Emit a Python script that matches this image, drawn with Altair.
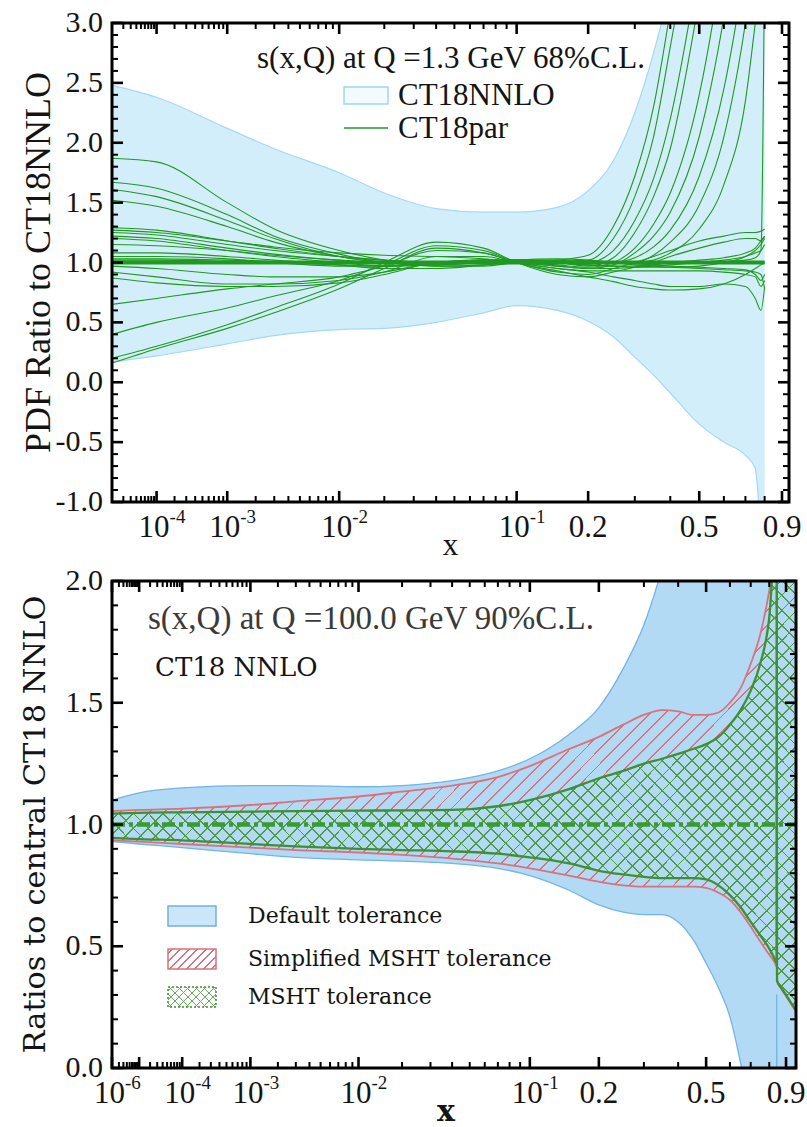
import altair as alt
import pandas as pd

SERIF = "Liberation Serif"
ALT_SERIF = "DejaVu Serif"
INK = "#141414"
GREEN = "#1f9a1f"

# ---------------- upper panel: s(x,Q) at Q = 1.3 GeV, 68% C.L. ----------------
x_top = [1e-5, 1e-4, 1e-3, 3e-3, 1e-2, 0.02, 0.04, 0.07, 0.1, 0.15, 0.2,
         0.25, 0.3, 0.35, 0.4, 0.5, 0.6, 0.7, 0.75, 0.78, 0.8]
nnlo_hi = [2.48, 2.38, 2.12, 1.95, 1.75, 1.58, 1.45, 1.42, 1.42, 1.46, 1.60,
           1.85, 2.25, 2.75, 3.3, 4.5, 6.0, 8.0, 9.0, 9.5, 10.0]
nnlo_lo = [0.17, 0.22, 0.32, 0.39, 0.44, 0.45, 0.50, 0.58, 0.64, 0.60, 0.51,
           0.38, 0.21, 0.06, -0.09, -0.35, -0.50, -0.61, -0.72, -1.3, -1.8]
central_top = [1.0] * len(x_top)

ct18par = {
    "p01": [1.87, 1.84, 1.50, 1.28, 1.10, 1.02, 0.97, 0.97, 1.00, 1.02, 1.06, 1.30, 1.72, 2.30, 3.10, 4.6, 6.0, 7.5, 8.0, 8.5, 9.0],
    "p02": [1.67, 1.62, 1.40, 1.22, 1.07, 1.00, 0.97, 0.98, 1.00, 1.01, 1.02, 1.20, 1.55, 2.05, 2.80, 4.2, 5.6, 7.0, 7.5, 8.0, 8.5],
    "p03": [1.61, 1.55, 1.35, 1.20, 1.05, 1.00, 0.98, 1.00, 1.02, 1.02, 1.00, 1.10, 1.35, 1.70, 2.20, 3.5, 4.8, 6.0, 6.5, 7.0, 7.5],
    "p04": [1.52, 1.47, 1.30, 1.17, 1.05, 1.00, 0.99, 1.01, 1.02, 1.00, 0.97, 1.04, 1.25, 1.55, 1.95, 3.2, 4.5, 5.8, 6.4, 6.8, 7.2],
    "p05": [1.29, 1.27, 1.18, 1.12, 1.05, 1.02, 1.00, 1.00, 1.00, 0.98, 0.96, 1.00, 1.12, 1.32, 1.58, 2.40, 3.6, 5.0, 5.6, 6.0, 6.4],
    "p06": [1.27, 1.25, 1.18, 1.13, 1.08, 1.06, 1.05, 1.03, 1.00, 0.97, 0.95, 0.98, 1.08, 1.22, 1.42, 2.05, 3.05, 4.3, 5.0, 5.4, 5.8],
    "p07": [1.25, 1.23, 1.15, 1.10, 1.05, 1.02, 1.00, 1.00, 1.00, 1.00, 1.00, 1.00, 1.04, 1.13, 1.27, 1.72, 2.45, 3.5, 4.1, 4.5, 4.9],
    "p08": [1.22, 1.20, 1.12, 1.07, 1.02, 1.00, 1.00, 1.00, 1.00, 1.00, 1.00, 1.00, 1.00, 1.06, 1.17, 1.48, 2.05, 3.0, 3.6, 4.0, 4.4],
    "p09": [1.20, 1.18, 1.10, 1.05, 1.00, 0.97, 1.00, 1.02, 1.02, 1.00, 1.00, 1.00, 1.00, 1.02, 1.08, 1.28, 1.65, 2.35, 3.0, 3.4, 3.8],
    "p10": [1.15, 1.14, 1.10, 1.06, 1.02, 1.00, 1.00, 1.00, 1.00, 1.00, 1.00, 1.00, 1.00, 1.00, 1.00, 1.00, 1.01, 1.02, 1.04, 1.10, 3.6],
    "p11": [0.16, 0.28, 0.45, 0.58, 0.78, 0.95, 1.12, 1.08, 1.00, 0.92, 0.90, 0.95, 1.00, 1.05, 1.10, 1.18, 1.22, 1.25, 1.25, 1.26, 1.28],
    "p12": [0.20, 0.30, 0.48, 0.62, 0.82, 1.00, 1.17, 1.12, 1.00, 0.90, 0.88, 0.92, 0.96, 1.00, 1.05, 1.12, 1.17, 1.20, 1.20, 1.18, 1.22],
    "p13": [0.40, 0.50, 0.62, 0.72, 0.85, 0.98, 1.14, 1.10, 1.00, 0.93, 0.88, 0.84, 0.80, 0.78, 0.77, 0.78, 0.82, 0.90, 0.95, 0.98, 1.00],
    "p14": [0.65, 0.70, 0.78, 0.82, 0.88, 0.97, 1.10, 1.08, 1.00, 0.95, 0.92, 0.88, 0.85, 0.82, 0.80, 0.80, 0.82, 0.80, 0.70, 0.60, 0.80],
    "p15": [0.92, 0.88, 0.82, 0.82, 0.85, 0.92, 1.05, 1.05, 1.00, 0.95, 0.93, 0.93, 0.93, 0.93, 0.93, 0.93, 0.92, 0.90, 0.88, 0.80, 0.85],
    "p16": [0.87, 0.83, 0.80, 0.80, 0.83, 0.90, 1.00, 1.02, 1.00, 0.97, 0.95, 0.95, 0.96, 0.97, 0.98, 1.00, 1.02, 1.05, 1.08, 1.10, 1.15],
    "p17": [0.97, 0.95, 0.90, 0.88, 0.88, 0.92, 1.00, 1.02, 1.02, 1.00, 0.98, 0.97, 0.96, 0.96, 0.96, 0.97, 1.00, 1.05, 1.10, 1.15, 1.20],
    "p18": [1.05, 1.05, 1.03, 1.00, 0.97, 0.97, 1.00, 1.02, 1.02, 1.00, 0.98, 0.97, 0.97, 0.98, 1.00, 1.02, 1.04, 1.08, 1.12, 1.18, 1.22],
    "p19": [1.08, 1.08, 1.05, 1.02, 0.98, 0.95, 0.95, 0.98, 1.02, 1.03, 1.02, 1.00, 0.98, 0.97, 0.96, 0.95, 0.94, 0.93, 0.92, 0.90, 0.78],
    "p20": [1.02, 1.02, 1.01, 1.00, 0.98, 0.97, 0.98, 1.00, 1.01, 1.01, 1.01, 1.00, 0.99, 0.98, 0.97, 0.96, 0.95, 0.94, 0.90, 0.85, 0.90],
    "p21": [1.03, 1.03, 1.02, 1.01, 1.00, 1.00, 1.00, 1.00, 1.00, 1.00, 1.00, 1.00, 1.00, 1.00, 1.00, 1.00, 1.00, 1.00, 1.00, 1.00, 1.00],
}

# ---------------- lower panel: s(x,Q) at Q = 100 GeV, 90% C.L. ----------------
x_bot = [1e-6, 1e-5, 1e-4, 1e-3, 3e-3, 1e-2, 0.02, 0.04, 0.07, 0.1, 0.15, 0.2,
         0.25, 0.3, 0.35, 0.4, 0.45, 0.5, 0.55, 0.6, 0.65, 0.7, 0.75, 0.8,
         0.83, 0.843, 0.8435, 0.845, 0.87, 0.9, 0.93, 0.96]
default_hi = [1.10, 1.13, 1.15, 1.16, 1.16, 1.155, 1.16, 1.18, 1.22, 1.27, 1.37, 1.48,
              1.64, 1.82, 2.05, 2.3, 2.6, 2.9, 3.2, 3.5, 3.8, 4.1, 4.4, 4.7,
              4.9, 5.0, 5.0, 5.0, 5.1, 5.2, 5.3, 5.4]
default_lo = [0.93, 0.92, 0.905, 0.88, 0.865, 0.855, 0.85, 0.84, 0.82, 0.79, 0.73, 0.67,
              0.64, 0.63, 0.63, 0.60, 0.53, 0.43, 0.33, 0.21, 0.02, -0.2, -0.4, -0.5,
              -0.5, -0.5, 0.3, -0.5, -0.5, -0.5, -0.5, -0.5]
simp_hi = [1.055, 1.06, 1.065, 1.08, 1.095, 1.115, 1.135, 1.16, 1.195, 1.24, 1.31, 1.36,
           1.41, 1.45, 1.47, 1.465, 1.45, 1.45, 1.46, 1.50, 1.56, 1.66, 1.78, 1.96,
           2.1, 2.1, 2.1, 2.1, 2.1, 2.1, 2.1, 2.1]
simp_lo = [0.935, 0.93, 0.92, 0.905, 0.895, 0.885, 0.875, 0.86, 0.84, 0.82, 0.79, 0.765,
           0.75, 0.745, 0.745, 0.745, 0.745, 0.74, 0.72, 0.69, 0.64, 0.58, 0.52, 0.465,
           0.435, 0.415, 2.1, 0.355, 0.325, 0.295, 0.265, 0.235]
msht_hi = [1.045, 1.048, 1.05, 1.053, 1.055, 1.057, 1.058, 1.06, 1.075, 1.10, 1.145, 1.19,
           1.22, 1.25, 1.27, 1.29, 1.31, 1.33, 1.36, 1.41, 1.47, 1.55, 1.66, 1.85,
           2.1, 2.1, 2.1, 2.1, 2.1, 2.1, 2.1, 2.1]
msht_lo = [0.945, 0.94, 0.935, 0.92, 0.91, 0.90, 0.895, 0.89, 0.88, 0.865, 0.84, 0.81,
           0.795, 0.785, 0.78, 0.78, 0.78, 0.775, 0.75, 0.71, 0.66, 0.60, 0.545, 0.49,
           0.45, 0.43, 2.1, 0.36, 0.33, 0.30, 0.27, 0.24]
central_bot = [1.0] * len(x_bot)

# ---------------- axis ticks and labels ----------------
top_major_x = [1e-4, 1e-3, 1e-2, 0.1, 0.2, 0.5, 0.9]
bot_major_x = [1e-6, 1e-5, 1e-4, 1e-3, 1e-2, 0.1, 0.2, 0.5, 0.9]
top_decades = [1e-4, 1e-3, 1e-2, 0.1]
top_exponents = ["-4", "-3", "-2", "-1"]
bot_decades = [1e-6, 1e-4, 1e-3, 1e-2, 0.1]
bot_exponents = ["-6", "-4", "-3", "-2", "-1"]
linear_ticks = [0.2, 0.5, 0.9]
linear_labels = ["0.2", "0.5", "0.9"]
top_major_y = [-1.0, -0.5, 0.0, 0.5, 1.0, 1.5, 2.0, 2.5, 3.0]
top_y_labels = ["-1.0", "-0.5", "0.0", "0.5", "1.0", "1.5", "2.0", "2.5", "3.0"]
bot_major_y = [0.0, 0.5, 1.0, 1.5, 2.0]
bot_y_labels = ["0.0", "0.5", "1.0", "1.5", "2.0"]


def minor_x(first_exp):
    ticks = [m * 10.0 ** e for e in range(first_exp, -1) for m in range(2, 10)]
    return ticks + [0.3, 0.4, 0.6, 0.7, 0.8]


def minor_y(lo, hi):
    n = int(round((hi - lo) * 10))
    return [round(lo + 0.1 * i, 1) for i in range(n + 1) if i % 5]


TOP_W, TOP_H = 677, 479
BOT_W, BOT_H = 684, 487

xs_top = alt.Scale(type="pow", exponent=0.2, domain=[1e-5, 0.943], nice=False, zero=False)
ys_top = alt.Scale(domain=[-1, 3], nice=False, zero=False)
xs_bot = alt.Scale(type="pow", exponent=0.2, domain=[1e-6, 0.964], nice=False, zero=False)
ys_bot = alt.Scale(domain=[0, 2], nice=False, zero=False)

one = pd.DataFrame({"k": [0]})


def hatch(color, clear, period, thickness, w, h, diag="/"):
    """Striped linear gradient used as a hatch fill (lines at ~45 degrees)."""
    r = h / w
    c = (1 + r) / (1 + r * r)
    n = max(1, round((w + h) / (2 ** 0.5 * period)))
    half = thickness / period / 2
    stops = []
    for i in range(n):
        mid = (i + 0.5) / n
        a, b = mid - half / n, mid + half / n
        stops += [alt.GradientStop(color=clear, offset=a), alt.GradientStop(color=color, offset=a),
                  alt.GradientStop(color=color, offset=b), alt.GradientStop(color=clear, offset=b)]
    if diag == "/":
        return alt.LinearGradient(gradient="linear", stops=stops, x1=0, y1=0, x2=c, y2=c * r)
    return alt.LinearGradient(gradient="linear", stops=stops, x1=0, y1=1, x2=c, y2=1 - c * r)


def frame_and_ticks(xs, ys, W, H, xmaj, xmin, ymaj, ymin):
    layers = []
    for vals, length, sw in ((xmaj, 11, 2.6), (xmin, 6, 2.0)):
        base = alt.Chart(pd.DataFrame({"x": vals})).mark_rule(color="black", strokeWidth=sw)
        xenc = alt.X("x:Q", scale=xs, axis=None)
        layers.append(base.encode(x=xenc, y=alt.value(H), y2=alt.value(H - length)))
        layers.append(base.encode(x=xenc, y=alt.value(0), y2=alt.value(length)))
    for vals, length, sw in ((ymaj, 11, 2.6), (ymin, 6, 2.0)):
        base = alt.Chart(pd.DataFrame({"y": vals})).mark_rule(color="black", strokeWidth=sw)
        yenc = alt.Y("y:Q", scale=ys, axis=None)
        layers.append(base.encode(y=yenc, x=alt.value(0), x2=alt.value(length)))
        layers.append(base.encode(y=yenc, x=alt.value(W), x2=alt.value(W - length)))
    layers.append(alt.Chart(one).mark_rect(fillOpacity=0, stroke="black", strokeWidth=3).encode(
        x=alt.value(0), x2=alt.value(W), y=alt.value(0), y2=alt.value(H)))
    return layers


def x_labels(xs, H, decades, exponents):
    dec = pd.DataFrame({"x": decades, "e": exponents})
    lin = pd.DataFrame({"x": linear_ticks, "t": linear_labels})
    xenc = alt.X("x:Q", scale=xs, axis=None)
    tens = alt.Chart(dec).mark_text(text="10", align="right", baseline="middle", dx=13,
                                    font=SERIF, fontSize=31, color=INK).encode(x=xenc, y=alt.value(H + 26))
    sup = alt.Chart(dec).mark_text(align="left", baseline="middle", dx=13, font=SERIF,
                                   fontSize=19, color=INK).encode(x=xenc, y=alt.value(H + 15), text="e:N")
    lin_t = alt.Chart(lin).mark_text(align="center", baseline="middle", font=SERIF, fontSize=31,
                                     color=INK).encode(x=xenc, y=alt.value(H + 26), text="t:N")
    return [tens, sup, lin_t]


def y_labels(ys, H, values, labels, title, font, size, tx):
    df = pd.DataFrame({"y": values, "t": labels})
    ticks_t = alt.Chart(df).mark_text(align="right", baseline="middle", dx=-9, font=SERIF, fontSize=30,
                                      color=INK).encode(y=alt.Y("y:Q", scale=ys, axis=None),
                                                        x=alt.value(0), text="t:N")
    title_t = alt.Chart(one).mark_text(text=title, angle=270, align="center", baseline="middle",
                                       font=font, fontSize=size, color=INK).encode(
        x=alt.value(tx), y=alt.value(H / 2))
    return [ticks_t, title_t]


# ---------------- build upper panel ----------------
top_df = pd.DataFrame({"x": x_top, "hi": nnlo_hi, "lo": nnlo_lo, "c": central_top})
par_df = pd.DataFrame([{"member": k, "x": x, "r": v} for k, vals in ct18par.items()
                       for x, v in zip(x_top, vals)])
xt = alt.X("x:Q", scale=xs_top, axis=None)

top_band = alt.Chart(top_df).mark_area(interpolate="monotone", clip=True, color="#d2eefb").encode(
    x=xt, y=alt.Y("lo:Q", scale=ys_top, axis=None), y2="hi:Q")
top_edges = alt.Chart(top_df).transform_fold(["hi", "lo"], as_=["edge", "v"]).mark_line(
    interpolate="monotone", clip=True, color="#a6d8f2", strokeWidth=1.2).encode(
    x=xt, y=alt.Y("v:Q", scale=ys_top, axis=None), detail="edge:N")
top_par = alt.Chart(par_df).mark_line(interpolate="monotone", clip=True, color=GREEN, strokeWidth=1.1).encode(
    x=xt, y=alt.Y("r:Q", scale=ys_top, axis=None), detail="member:N")
top_central = alt.Chart(top_df).mark_line(clip=True, color=GREEN, strokeWidth=4).encode(
    x=xt, y=alt.Y("c:Q", scale=ys_top, axis=None))

top_text = [
    alt.Chart(one).mark_text(text="s(x,Q) at Q =1.3 GeV 68%C.L.", font=SERIF, fontSize=31, color=INK,
                             align="center", baseline="middle").encode(x=alt.value(339), y=alt.value(36)),
    alt.Chart(one).mark_rect(fill="#f3fbff", stroke="#9fd6f2", strokeWidth=1.5).encode(
        x=alt.value(232), x2=alt.value(276), y=alt.value(64), y2=alt.value(81)),
    alt.Chart(one).mark_rule(color=GREEN, strokeWidth=1.5).encode(
        x=alt.value(232), x2=alt.value(276), y=alt.value(105)),
    alt.Chart(one).mark_text(text="CT18NNLO", font=SERIF, fontSize=31, color=INK, align="left",
                             baseline="middle").encode(x=alt.value(286), y=alt.value(73)),
    alt.Chart(one).mark_text(text="CT18par", font=SERIF, fontSize=31, color=INK, align="left",
                             baseline="middle").encode(x=alt.value(286), y=alt.value(106)),
    alt.Chart(one).mark_text(text="x", font=SERIF, fontSize=31, color=INK, align="center",
                             baseline="middle").encode(x=alt.value(TOP_W / 2), y=alt.value(TOP_H + 44)),
    # keeps the page origin at a fixed offset from the plot corner
    alt.Chart(one).mark_rule(opacity=0).encode(x=alt.value(-111), x2=alt.value(-110),
                                               y=alt.value(-22), y2=alt.value(-21)),
]

top_panel = alt.layer(
    top_band, top_edges, top_par, top_central,
    *frame_and_ticks(xs_top, ys_top, TOP_W, TOP_H, top_major_x, minor_x(-5), top_major_y, minor_y(-1, 3)),
    *x_labels(xs_top, TOP_H, top_decades, top_exponents),
    *y_labels(ys_top, TOP_H, top_major_y, top_y_labels, "PDF Ratio to CT18NNLO", SERIF, 36, -73),
    *top_text,
).properties(width=TOP_W, height=TOP_H)

# ---------------- build lower panel ----------------
bot_df = pd.DataFrame({"x": x_bot, "d_hi": default_hi, "d_lo": default_lo, "s_hi": simp_hi,
                       "s_lo": simp_lo, "m_hi": msht_hi, "m_lo": msht_lo, "c": central_bot})
xb = alt.X("x:Q", scale=xs_bot, axis=None)
BLUE_FILL = "#b2daf5"
RED = "#d8727c"
GREEN_EDGE = "#3f8f35"


def band(lo, hi, **mark):
    return alt.Chart(bot_df).mark_area(interpolate="monotone", clip=True, **mark).encode(
        x=xb, y=alt.Y(f"{lo}:Q", scale=ys_bot, axis=None), y2=f"{hi}:Q")


def edges(cols, **mark):
    return alt.Chart(bot_df).transform_fold(cols, as_=["edge", "v"]).mark_line(
        interpolate="monotone", clip=True, **mark).encode(
        x=xb, y=alt.Y("v:Q", scale=ys_bot, axis=None), detail="edge:N")


bot_blue = band("d_lo", "d_hi", fill=BLUE_FILL)
band_w, band_h = BOT_W, 450
red_hatch = band("s_lo", "s_hi", fill=hatch(RED, "rgba(216,114,124,0)", 10.5, 1.3, band_w, band_h, "/"))
green_cover = band("m_lo", "m_hi", fill=BLUE_FILL)
green_h1 = band("m_lo", "m_hi", fill=hatch("#4f9a42", "rgba(79,154,66,0)", 10.5, 1.3, band_w, band_h, "/"))
green_h2 = band("m_lo", "m_hi", fill=hatch("#4f9a42", "rgba(79,154,66,0)", 10.5, 1.3, band_w, band_h, "\\"))
blue_edges = edges(["d_hi", "d_lo"], color="#72b4e5", strokeWidth=1.3)
red_edges = edges(["s_hi", "s_lo"], color=RED, strokeWidth=1.8)
green_edges = edges(["m_hi", "m_lo"], color=GREEN_EDGE, strokeWidth=2.3)
bot_central = alt.Chart(bot_df).mark_line(clip=True, color="#3b9a2c", strokeWidth=4.5,
                                          strokeDash=[13, 4, 4, 4]).encode(
    x=xb, y=alt.Y("c:Q", scale=ys_bot, axis=None))


def swatch(y0, **mark):
    return alt.Chart(one).mark_rect(**mark).encode(
        x=alt.value(56), x2=alt.value(104), y=alt.value(y0), y2=alt.value(y0 + 20))


def legend_text(label, y):
    return alt.Chart(one).mark_text(text=label, font=ALT_SERIF, fontSize=22, color=INK, align="left",
                                    baseline="middle").encode(x=alt.value(136), y=alt.value(y))


bot_text = [
    alt.Chart(one).mark_text(text="s(x,Q) at Q =100.0 GeV 90%C.L.", font=SERIF, fontSize=33,
                             color="#3a3a3a", align="left", baseline="middle").encode(
        x=alt.value(36), y=alt.value(38)),
    alt.Chart(one).mark_text(text="CT18 NNLO", font=ALT_SERIF, fontSize=26, color=INK, align="left",
                             baseline="middle").encode(x=alt.value(43), y=alt.value(87)),
    swatch(325, fill="#cbe6f8", stroke="#6fb1e2", strokeWidth=1.5),
    swatch(368, fill="white"),
    swatch(368, fill=hatch(RED, "rgba(216,114,124,0)", 6, 1.2, 48, 20, "/"), stroke=RED, strokeWidth=1.5),
    swatch(406, fill="white"),
    swatch(406, fill=hatch("#6aaa5c", "rgba(106,170,92,0)", 6, 1.0, 48, 20, "/")),
    swatch(406, fill=hatch("#6aaa5c", "rgba(106,170,92,0)", 6, 1.0, 48, 20, "\\"),
           stroke=GREEN_EDGE, strokeWidth=1.5, strokeDash=[2, 2]),
    legend_text("Default tolerance", 335),
    legend_text("Simplified MSHT tolerance", 378),
    legend_text("MSHT tolerance", 416),
    alt.Chart(one).mark_text(text="x", font=ALT_SERIF, fontSize=30, fontWeight="bold", color=INK,
                             align="center", baseline="middle").encode(
        x=alt.value(BOT_W / 2 - 8), y=alt.value(BOT_H + 44)),
]

bot_panel = alt.layer(
    bot_blue, red_hatch, green_cover, green_h1, green_h2, blue_edges, red_edges, green_edges, bot_central,
    *frame_and_ticks(xs_bot, ys_bot, BOT_W, BOT_H, bot_major_x, minor_x(-6), bot_major_y, minor_y(0, 2)),
    *x_labels(xs_bot, BOT_H, bot_decades, bot_exponents),
    *y_labels(ys_bot, BOT_H, bot_major_y, bot_y_labels, "Ratios to central CT18 NNLO", ALT_SERIF, 30.5, -76),
    *bot_text,
).properties(width=BOT_W, height=BOT_H)

chart = alt.vconcat(top_panel, bot_panel, spacing=79, bounds="flush").properties(
    padding=0, background="white"
).configure_view(stroke="transparent")

chart.save("out.html", embed_options={"renderer": "svg", "actions": False})
